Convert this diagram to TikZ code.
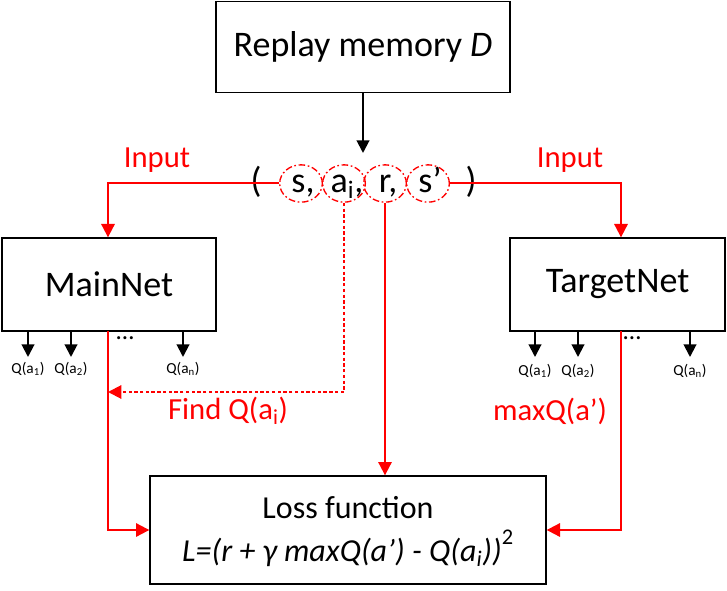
\documentclass[tikz,border=0pt]{standalone}
\usepackage{fontspec}
\setmainfont{Carlito}
\usetikzlibrary{arrows.meta,shapes.geometric}
\definecolor{pred}{RGB}{255,0,0}
\begin{document}
\begin{tikzpicture}[x=0.75pt,y=-0.75pt,
  box/.style={draw=black, line width=1pt, inner sep=0pt},
  big/.style={font=\fontsize{27}{32}\selectfont},
  mid/.style={font=\fontsize{24}{28}\selectfont},
  lab/.style={font=\fontsize{23}{27}\selectfont, text=pred},
  small/.style={font=\fontsize{11.5}{13}\selectfont},
  circ/.style={ellipse, draw=pred, line width=1pt, dash pattern=on 5pt off 2pt on 1.2pt off 2pt, minimum width=32pt, minimum height=28pt, inner sep=0pt},
  rarr/.style={draw=pred, line width=1.5pt, -{Triangle[width=10pt,length=10pt]}},
  barr/.style={draw=black, line width=1.5pt, -{Triangle[width=9.5pt,length=9.5pt]}}
]
\useasboundingbox (0,0) rectangle (727,591);
% boxes
\node[box, big, minimum width=220.5pt, minimum height=68.5pt] (replay) at (363,47) {Replay memory \textit{D}};
\node[box, big, minimum width=160.5pt, minimum height=69.75pt] (main) at (109,284.5) {MainNet};
\node[box, big, minimum width=161.25pt, minimum height=69.75pt] (target) at (617.5,284.5) {TargetNet};
\node[box, minimum width=297pt, minimum height=81pt] (loss) at (348,530) {};
\node[mid] (lossA) at (348,508) {Loss function};
\node[mid] (lossB) at (348,548) {\textit{L=(r + γ maxQ(a’) - Q(a\textsubscript{i}))}\raisebox{0.35ex}{\textsuperscript{2}}};
% tuple
\node[circ] (cs) at (301,183.5) {};
\node[circ] (ca) at (344,183.5) {};
\node[circ] (cr) at (385,183.5) {};
\node[circ] (csp) at (428,183.5) {};
\node[big, anchor=base] (lp) at (256,193) {(};
\node[big, anchor=base] (rp) at (471,193) {)};
\node[big, inner sep=0pt, anchor=base] (ts) at (303,193) {s,};
\node[big, inner sep=0pt, anchor=base] (ta) at (347,193) {a\textsubscript{i},};
\node[big, inner sep=0pt, anchor=base] (tr) at (388,193) {r,};
\node[big, inner sep=0pt, anchor=base] (tsp) at (430,193) {s’};
% replay to tuple
\coordinate (tupin) at (363,153);
\draw[barr] (replay.south -| tupin) -- (tupin);
% inputs
\coordinate (lcorner) at (108,183.5);
\coordinate (rcorner) at (621,183.5);
\draw[rarr] (cs.west) -- (lcorner) -- (lcorner |- main.north);
\draw[rarr] (csp.east) -- (rcorner) -- (rcorner |- target.north);
\node[lab] (in1) at (157,160) {Input};
\node[lab] (in2) at (570,160) {Input};
% main outputs
\coordinate (mo) at (108,331);
\coordinate (to) at (621,331);
\draw[rarr] (mo) -- (mo |- loss.west) -- (loss.west);
\draw[rarr] (to) -- (to |- loss.east) -- (loss.east);
% dotted find
\coordinate (fcorner) at (344,392);
\draw[rarr, dash pattern=on 2.5pt off 1.8pt] (ca.south) -- (fcorner) -- (fcorner -| mo);
\node[lab] (find) at (228,411) {Find Q(a\textsubscript{i})};
\node[lab] (maxq) at (550,411) {maxQ(a’)};
% r to loss
\draw[rarr] (cr.south) -- (cr.south |- loss.north);
% small arrows main
\foreach \x/\s/\n in {28/1/m1,71/2/m2,183/n/m3}{
  \coordinate (\n t) at (\x,357);
  \draw[barr] (\x,331) -- (\n t);
  \node[small, inner sep=0pt] (\n) at (\x,369) {Q(a\textsubscript{\s})};
}
\foreach \x/\s/\n in {535/1/t1,578/2/t2,690/n/t3}{
  \coordinate (\n t) at (\x,357);
  \draw[barr] (\x,331) -- (\n t);
  \node[small, inner sep=0pt] (\n) at (\x,371) {Q(a\textsubscript{\s})};
}
\node[font=\fontsize{19}{22}\selectfont] (d1) at (125,338) {…};
\node[font=\fontsize{19}{22}\selectfont] (d2) at (632,338) {…};
\end{tikzpicture}
\end{document}
